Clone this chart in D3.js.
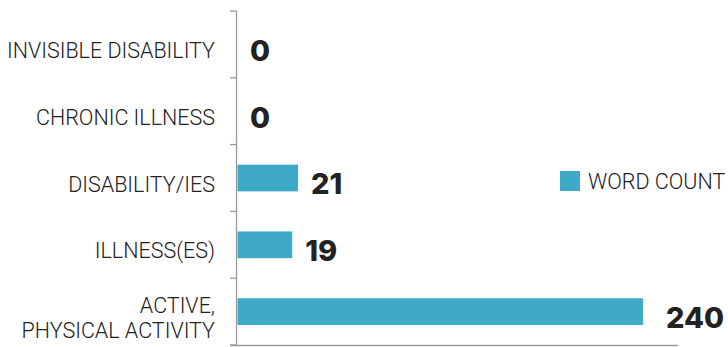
<!DOCTYPE html>
<html><head><meta charset="utf-8">
<script src="https://cdn.jsdelivr.net/npm/d3@7"></script>
<style>
html,body{margin:0;padding:0;background:#fff;}
svg{display:block;}
</style></head>
<body>
<svg id="chart" width="728" height="347"></svg>
<script>
const categories = [["INVISIBLE DISABILITY"], ["CHRONIC ILLNESS"], ["DISABILITY/IES"], ["ILLNESS(ES)"], ["ACTIVE,", "PHYSICAL ACTIVITY"]];
const wordCount = [0, 0, 21, 19, 240];
const seriesName = "WORD COUNT";
const barColor = "#3faac7";

const svg = d3.select("#chart");
const keys = categories.map(c => c.join(" "));

const y = d3.scaleBand().domain(keys).range([11, 345]).padding(0);
// the original chart's bar lengths are not proportional for the long bar
const x = d3.scaleLinear().domain([0, 21, 240]).range([237, 298, 643]);

const barH = y.bandwidth() * 0.4;

const axisG = svg.append("g").attr("stroke", "#9a9a9a").attr("stroke-width", 1.3);
axisG.append("line").attr("x1", 236.5).attr("x2", 236.5).attr("y1", 11).attr("y2", 345);
const bounds = keys.map(k => y(k)).concat([y.range()[1]]);
axisG.selectAll("line.tk").data(bounds).join("line").attr("class", "tk")
  .attr("x1", 230).attr("x2", 236.5).attr("y1", d => d).attr("y2", d => d);
axisG.append("line").attr("x1", 230).attr("x2", 678).attr("y1", 345.5).attr("y2", 345.5);

svg.append("g").selectAll("rect").data(wordCount).join("rect")
  .attr("x", x(0) + 0.5)
  .attr("y", (d, i) => y(keys[i]) + (y.bandwidth() - barH) / 2)
  .attr("width", d => Math.max(0, x(d) - x(0) - 0.5))
  .attr("height", barH)
  .attr("fill", barColor);

svg.append("g").selectAll("text").data(wordCount).join("text")
  .attr("x", d => x(d) + (d > 100 ? 23 : 13))
  .attr("y", (d, i) => y(keys[i]) + y.bandwidth() / 2 + 6)
  .attr("dy", "0.36em")
  .attr("font-family", "Inter, 'Open Sans', sans-serif")
  .attr("font-weight", 800)
  .attr("font-size", 29)
  .attr("fill", "#222")
  .text(d => d);

const labFont = "Roboto, sans-serif";
const lab = svg.append("g").selectAll("text").data(categories).join("text")
  .attr("text-anchor", "end")
  .attr("font-family", labFont)
  .attr("font-weight", 300)
  .attr("font-size", 21.5)
  .attr("fill", "#222")
  .attr("transform", (c, i) => `translate(215, ${y(keys[i]) + y.bandwidth() / 2 + 6})`);
lab.selectAll("tspan").data(c => c.map((t, j) => ({t, j, n: c.length}))).join("tspan")
  .attr("x", 0)
  .attr("y", d => (d.j - (d.n - 1) / 2) * 25)
  .attr("dy", "0.35em")
  .text(d => d.t);

const lg = svg.append("g").attr("transform", "translate(560,171)");
lg.append("rect").attr("width", 20).attr("height", 20).attr("fill", barColor);
lg.append("text").attr("x", 28).attr("y", 10).attr("dy", "0.35em")
  .attr("font-family", labFont).attr("font-weight", 300)
  .attr("font-size", 21.5).attr("fill", "#222").text(seriesName);
</script>
</body></html>
